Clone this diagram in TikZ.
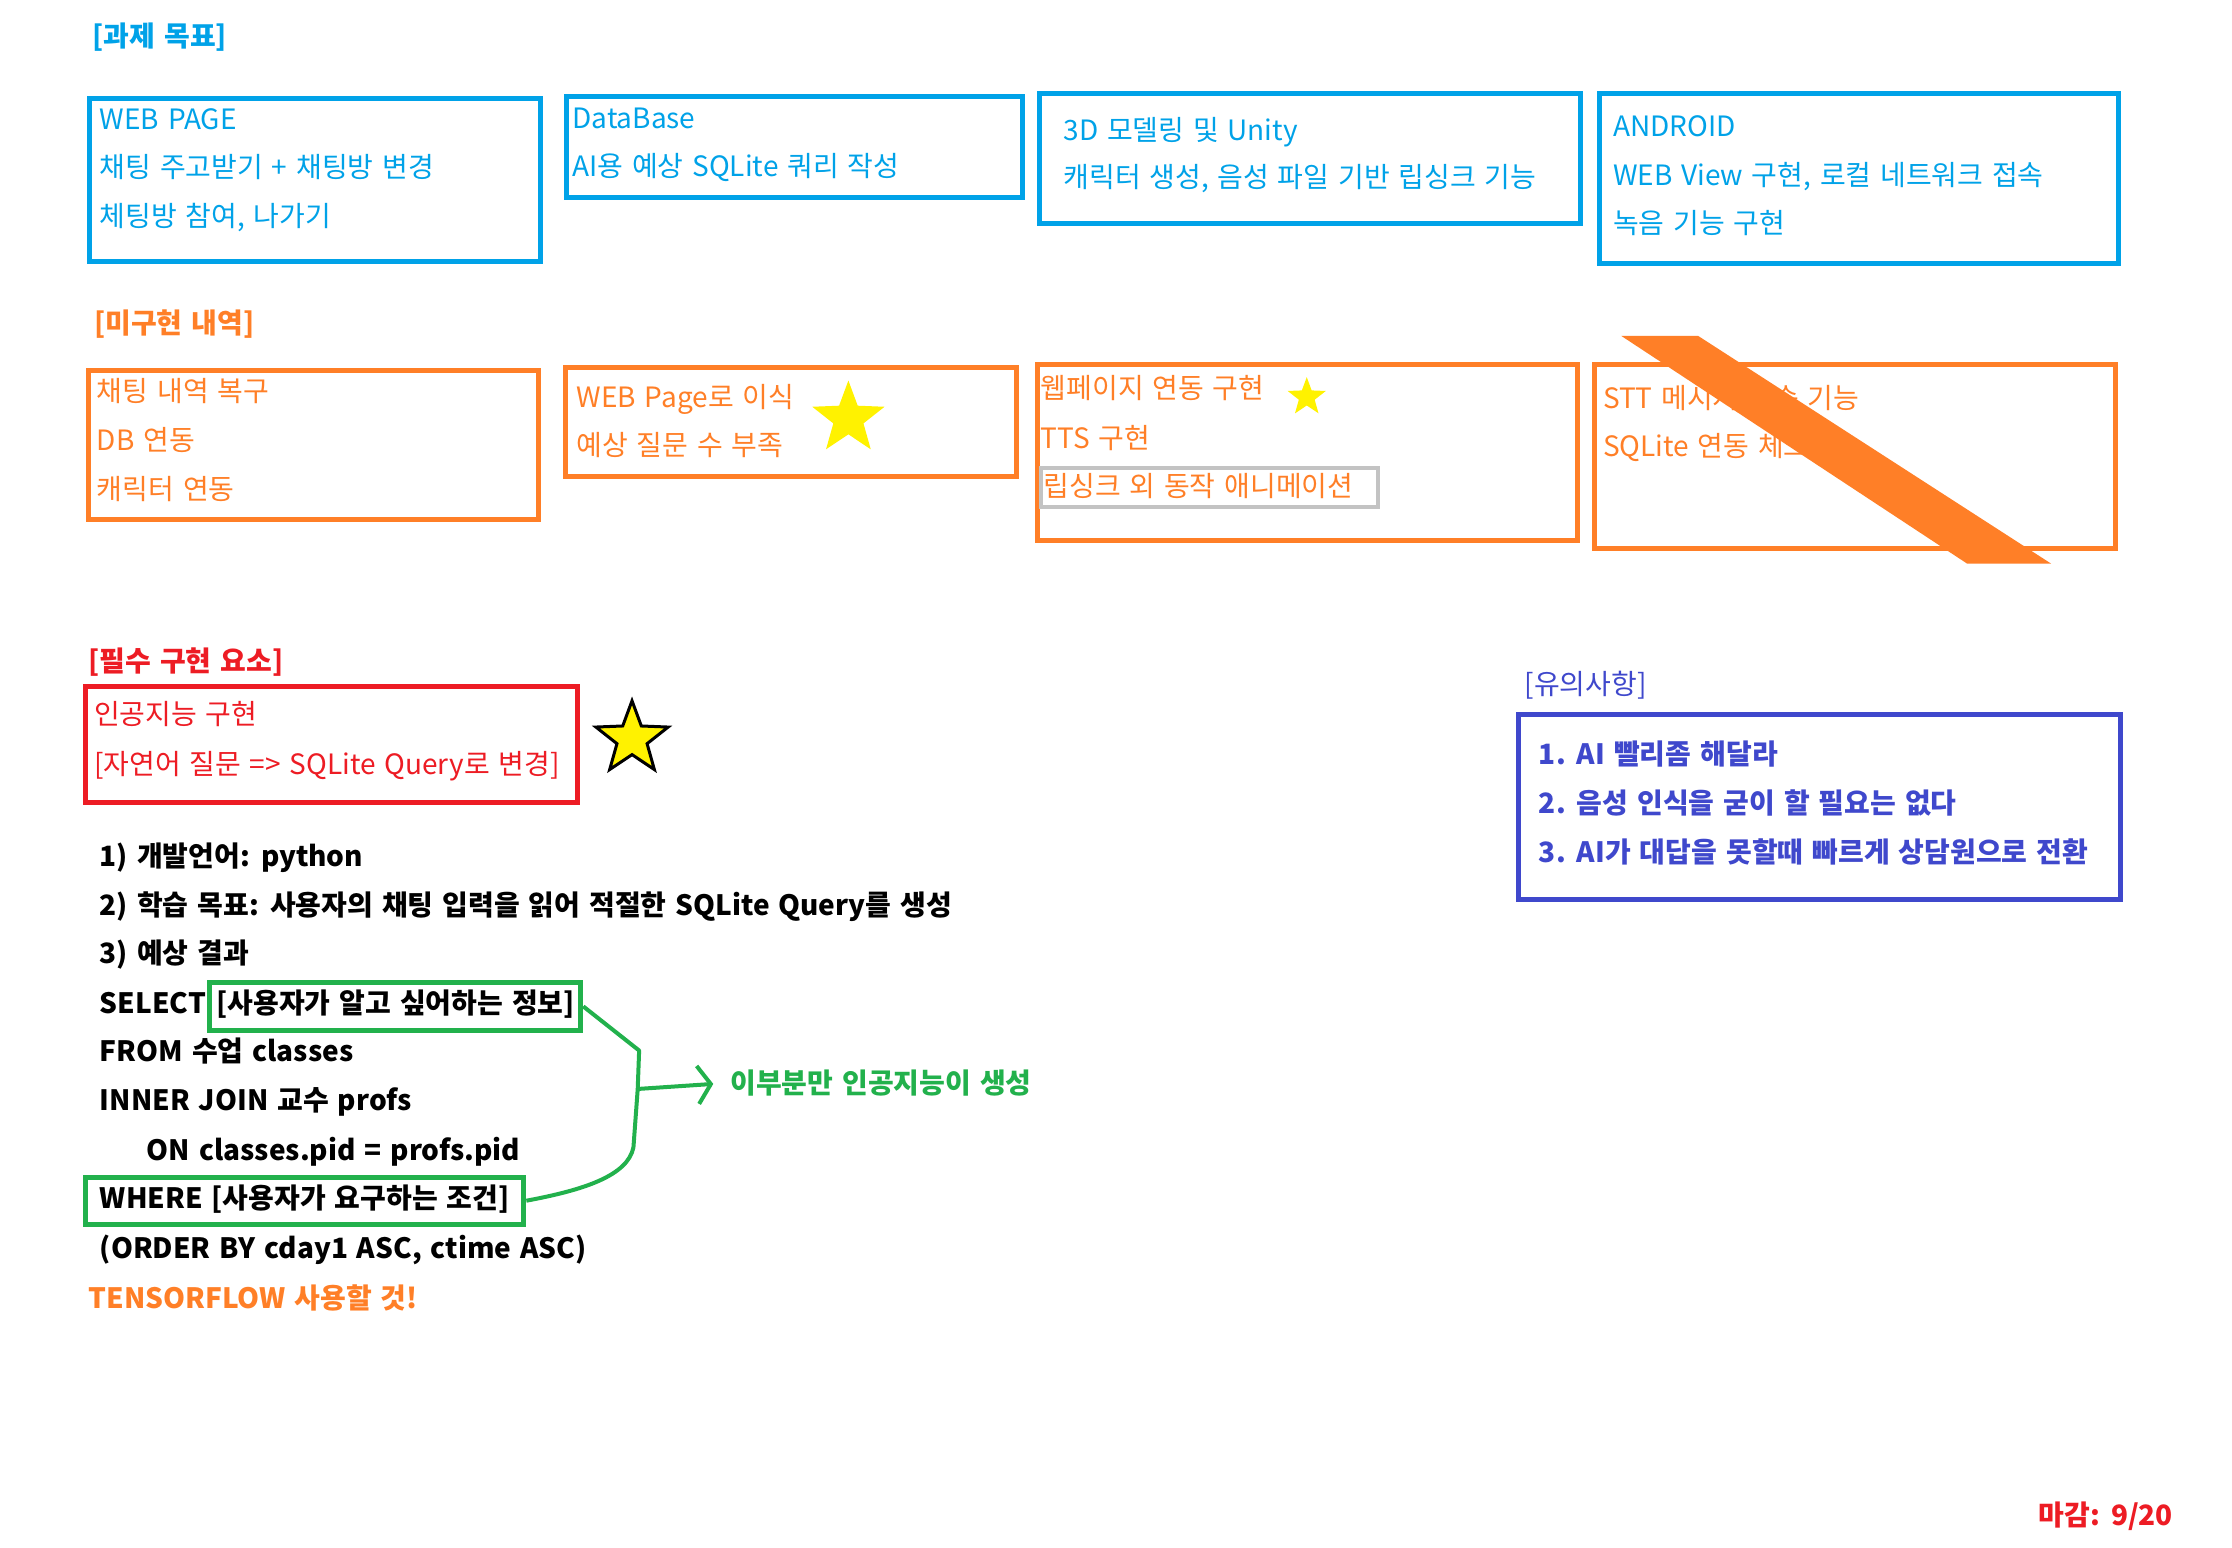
\documentclass[tikz,border=0pt]{standalone}
\usepackage{fontspec}
\setmainfont{Noto Sans CJK KR}[WordSpace=1.4]
\usetikzlibrary{fit,shapes.geometric,arrows.meta}
\definecolor{goalblue}{HTML}{00A2E8}
\definecolor{todoorange}{HTML}{FF7F27}
\definecolor{mustred}{HTML}{ED1C24}
\definecolor{pickgreen}{HTML}{22B14C}
\definecolor{noteblue}{HTML}{3F48CC}
\definecolor{staryellow}{HTML}{FFF200}
\definecolor{skipgray}{HTML}{C3C3C3}
\begin{document}
\begin{tikzpicture}[x=1.4235pt, y=-1.4235pt,
    txt/.style={anchor=base west, inner sep=0pt, font=\fontsize{28}{32}\selectfont},
    btxt/.style={txt, font=\fontsize{28}{32}\selectfont\bfseries},
    boxline/.style={draw=#1, line width=5pt, inner sep=0pt},
    fivestar/.style={star, star points=5, star point ratio=2.4, inner sep=0pt, fill=staryellow}]
    % background
    \path[fill=white, use as bounding box](0,0)rectangle(1568,1087);
    % 과제 목표
    \node[btxt, text=goalblue](goaltitle)at(65,33){[과제 목표]};
    % WEB PAGE
    \node[boxline=goalblue, fit={(63,69)(380,184)}](webbox){};
    \foreach \t [count=\i from 0] in {WEB PAGE, 채팅 주고받기 + 채팅방 변경, {체팅방 참여, 나가기}}
        \node[txt, text=goalblue](web\i)at(70,{91+34*\i}){\t};
    % DataBase
    \node[boxline=goalblue, fit={(398,68)(718,139)}](dbbox){};
    \foreach \t [count=\i from 0] in {DataBase, AI용 예상 SQLite 쿼리 작성}
        \node[txt, text=goalblue](db\i)at(402,{90+34*\i}){\t};
    % Unity
    \node[boxline=goalblue, fit={(730,66)(1110,157)}](unitybox){};
    \foreach \t [count=\i from 0] in {3D 모델링 및 Unity, {캐릭터 생성, 음성 파일 기반 립싱크 기능}}
        \node[txt, text=goalblue](unity\i)at(747,{99+33*\i}){\t};
    % ANDROID
    \node[boxline=goalblue, fit={(1124,66)(1488,185)}](androidbox){};
    \foreach \t [count=\i from 0] in {ANDROID, {WEB View 구현, 로컬 네트워크 접속}, 녹음 기능 구현}
        \node[txt, text=goalblue](android\i)at(1133,{96+34*\i}){\t};
    % 미구현 내역
    \node[btxt, text=todoorange](todotitle)at(66,234){[미구현 내역]};
    \node[boxline=todoorange, fit={(62,260)(378,365)}](chatbox){};
    \foreach \t [count=\i from 0] in {채팅 내역 복구, DB 연동, 캐릭터 연동}
        \node[txt, text=todoorange](chat\i)at(68,{282+34.5*\i}){\t};
    \node[boxline=todoorange, fit={(397,258)(714,335)}](portbox){};
    \foreach \t [count=\i from 0] in {WEB Page로 이식, 예상 질문 수 부족}
        \node[txt, text=todoorange](port\i)at(405,{286+34*\i}){\t};
    \node[fivestar, minimum size=76pt](portstar)at(596,294){};
    \node[boxline=todoorange, fit={(729,256)(1108,380)}](linkbox){};
    \node[txt, text=todoorange](link0)at(731,280){웹페이지 연동 구현};
    \node[txt, text=todoorange](link1)at(731,315){TTS 구현};
    \node[boxline=skipgray, line width=4pt, fit={(731,329)(968,356)}](skipbox){};
    \node[txt, text=todoorange](link2)at(733,349){립싱크 외 동작 애니메이션};
    \node[fivestar, minimum size=40pt](linkstar)at(918,279){};
    \node[boxline=todoorange, fit={(1120,256)(1486,385)}](sttbox){};
    \foreach \t [count=\i from 0] in {STT 메시지 전송 기능, SQLite 연동 체크}
        \node[txt, text=todoorange](stt\i)at(1126,{287+34*\i}){\t};
    % 취소선
    \path[fill=todoorange](1139,236)--(1193,236)--(1441,396)--(1382,396)--cycle;
    % 필수 구현 요소
    \node[btxt, text=mustred](musttitle)at(62,472){[필수 구현 요소]};
    \node[boxline=mustred, fit={(60,482)(406,564)}](aibox){};
    \node[txt, text=mustred](ai0)at(66,509){인공지능 구현};
    \node[txt, text=mustred](ai1)at(66,544){[자연어 질문 => SQLite Query로 변경]};
    \node[fivestar, draw=black, line width=3pt, minimum size=76pt](aistar)at(444,519){};
    % 개발 내용
    \node[btxt](plan0)at(70,609){1) 개발언어: python};
    \node[btxt](plan1)at(70,643){2) 학습 목표: 사용자의 채팅 입력을 읽어 적절한 SQLite Query를 생성};
    \node[btxt](plan2)at(70,677){3) 예상 결과};
    % 예상 쿼리
    \node[btxt](sel0)at(70,712){SELECT};
    \coordinate(selstart)at([xshift=3pt]sel0.base east);
    \node[btxt, anchor=base west](sel1)at([xshift=10pt]sel0.base east){[사용자가 알고 싶어하는 정보]};
    \node[boxline=pickgreen, fit={(selstart |- 0,690)(408,724)}](selbox){};
    \node[btxt](from)at(70,746){FROM 수업 classes};
    \node[btxt](join)at(70,780){INNER JOIN 교수 profs};
    \node[btxt](on)at(103,815){ON classes.pid = profs.pid};
    \node[btxt](where)at(70,849){WHERE [사용자가 요구하는 조건]};
    \node[boxline=pickgreen, fit={(60,827)(368,860)}](wherebox){};
    \node[btxt](order)at(70,884){(ORDER BY cday1 ASC, ctime ASC)};
    \node[btxt, text=todoorange](tensor)at(62,919){TENSORFLOW 사용할 것!};
    % 괄호와 화살표
    \node[btxt, text=pickgreen](ailabel)at(513,768){이부분만 인공지능이 생성};
    \coordinate(fork)at(448,765);
    \path[draw=pickgreen, line width=4pt, line join=round](selbox.east)--(449,738)--(fork)--(445,806)
        .. controls (441,826) and (410,836) .. (wherebox.east);
    \path[draw=pickgreen, line width=4pt, -{Straight Barb[length=13pt,width=38pt]}, shorten >=17pt](fork)--(ailabel.west);
    % 유의사항
    \node[txt, text=noteblue](notetitle)at(1071,488){[유의사항]};
    \node[boxline=noteblue, fit={(1067,502)(1490,632)}](notebox){};
    \foreach \t [count=\i from 0] in {1. AI 빨리좀 해달라, 2. 음성 인식을 굳이 할 필요는 없다, 3. AI가 대답을 못할때 빠르게 상담원으로 전환}
        \node[btxt, text=noteblue](note\i)at(1081,{537+34.5*\i}){\t};
    % 마감
    \node[btxt, text=mustred](deadline)at(1432,1072){마감: 9/20};
\end{tikzpicture}
\end{document}
